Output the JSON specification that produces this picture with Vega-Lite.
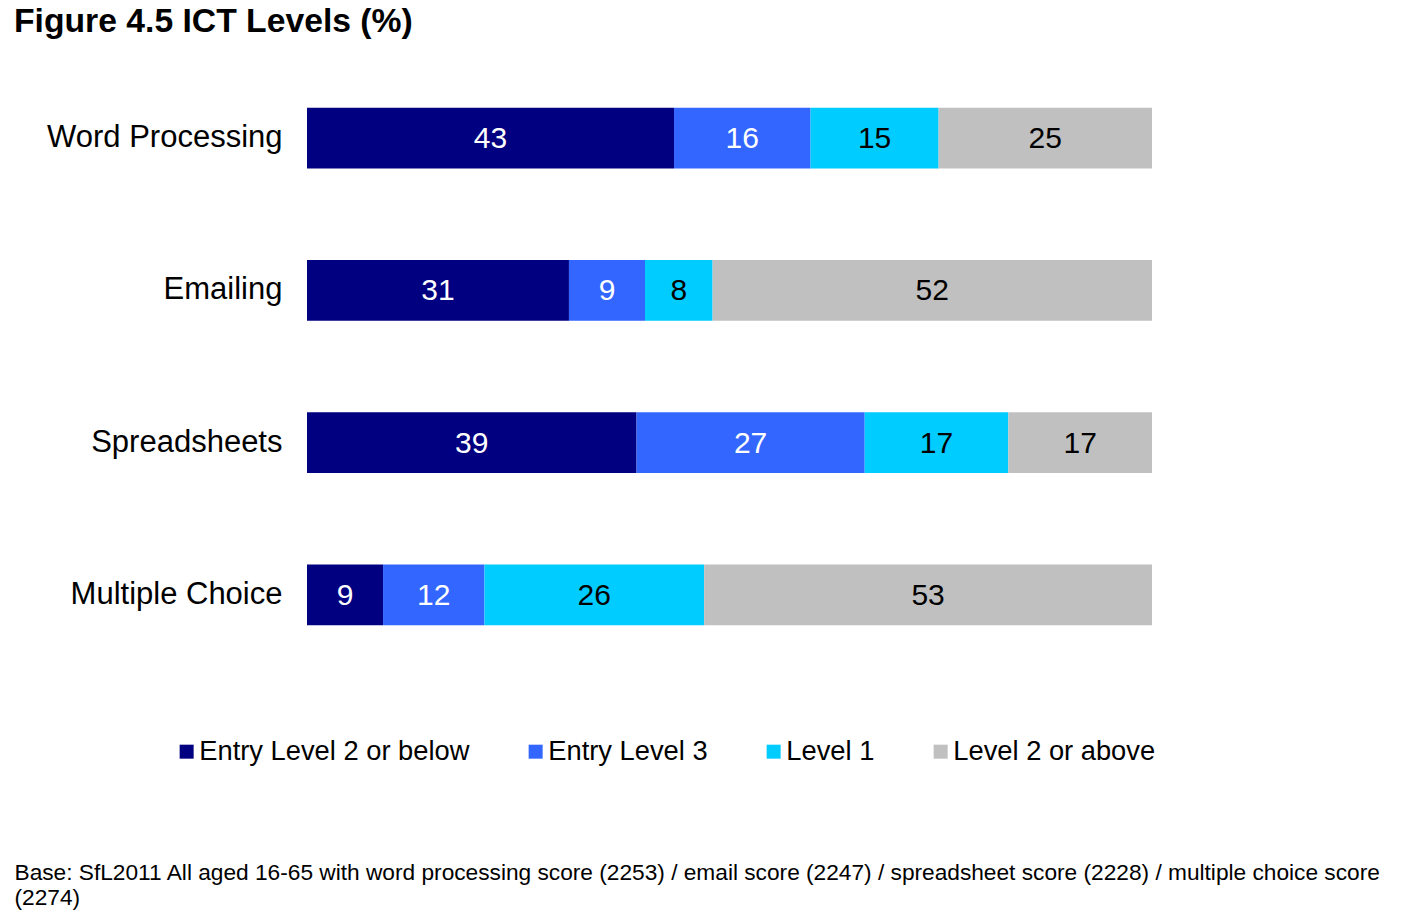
{
  "$schema": "https://vega.github.io/schema/vega-lite/v6.json",
  "width": 845,
  "height": 609,
  "autosize": {"type": "none"},
  "padding": {"left": 307, "top": 62, "right": 265, "bottom": 243},
  "background": "white",
  "config": {
    "font": "Liberation Sans",
    "view": {"stroke": null}
  },
  "title": {
    "text": "Figure 4.5 ICT Levels (%)",
    "anchor": "start",
    "frame": "group",
    "dx": -293,
    "dy": 34,
    "offset": 30,
    "baseline": "alphabetic",
    "font": "Liberation Sans",
    "fontSize": 33.7,
    "fontWeight": "bold",
    "color": "black"
  },
  "data": {
    "values": [
      {"category": "Word Processing", "level": "Entry Level 2 or below", "ord": 1, "value": 43},
      {"category": "Word Processing", "level": "Entry Level 3", "ord": 2, "value": 16},
      {"category": "Word Processing", "level": "Level 1", "ord": 3, "value": 15},
      {"category": "Word Processing", "level": "Level 2 or above", "ord": 4, "value": 25},
      {"category": "Emailing", "level": "Entry Level 2 or below", "ord": 1, "value": 31},
      {"category": "Emailing", "level": "Entry Level 3", "ord": 2, "value": 9},
      {"category": "Emailing", "level": "Level 1", "ord": 3, "value": 8},
      {"category": "Emailing", "level": "Level 2 or above", "ord": 4, "value": 52},
      {"category": "Spreadsheets", "level": "Entry Level 2 or below", "ord": 1, "value": 39},
      {"category": "Spreadsheets", "level": "Entry Level 3", "ord": 2, "value": 27},
      {"category": "Spreadsheets", "level": "Level 1", "ord": 3, "value": 17},
      {"category": "Spreadsheets", "level": "Level 2 or above", "ord": 4, "value": 17},
      {"category": "Multiple Choice", "level": "Entry Level 2 or below", "ord": 1, "value": 9},
      {"category": "Multiple Choice", "level": "Entry Level 3", "ord": 2, "value": 12},
      {"category": "Multiple Choice", "level": "Level 1", "ord": 3, "value": 26},
      {"category": "Multiple Choice", "level": "Level 2 or above", "ord": 4, "value": 53}
    ]
  },
  "encoding": {
    "y": {
      "field": "category",
      "type": "nominal",
      "sort": ["Word Processing", "Emailing", "Spreadsheets", "Multiple Choice"],
      "scale": {"paddingInner": 0.6, "paddingOuter": 0.3},
      "axis": {
        "title": null,
        "ticks": false,
        "tickSize": 0,
        "domain": false,
        "labelPadding": 25,
        "labelFontSize": 31,
        "labelLimit": 400,
        "labelColor": "black",
        "labelFont": "Liberation Sans"
      }
    },
    "x": {
      "field": "value",
      "type": "quantitative",
      "stack": "normalize",
      "scale": {"domain": [0, 1], "nice": false},
      "axis": {
        "labels": false,
        "ticks": false,
        "domain": false,
        "grid": false,
        "title": ["Base: SfL2011 All aged 16-65  with word processing score (2253) / email score (2247) / spreadsheet score (2228) / multiple choice score", "(2274)"],
        "titleX": -293,
        "titleY": 208,
        "titleAlign": "left",
        "titleAnchor": "start",
        "titleBaseline": "alphabetic",
        "titleFontSize": 22.7,
        "titleFontWeight": "normal",
        "titleFont": "Liberation Sans",
        "titleLineHeight": 25,
        "titleColor": "black",
        "titleLimit": 1400
      }
    },
    "order": {"field": "ord", "type": "quantitative"}
  },
  "layer": [
    {
      "mark": {"type": "bar"},
      "encoding": {
        "color": {
          "field": "level",
          "type": "nominal",
          "sort": ["Entry Level 2 or below", "Entry Level 3", "Level 1", "Level 2 or above"],
          "scale": {
            "domain": ["Entry Level 2 or below", "Entry Level 3", "Level 1", "Level 2 or above"],
            "range": ["#000080", "#3366FF", "#00CCFF", "#C0C0C0"]
          },
          "legend": {
            "title": null,
            "orient": "none",
            "direction": "horizontal",
            "legendX": -134,
            "legendY": 676,
            "padding": 0,
            "symbolType": "square",
            "symbolSize": 196,
            "symbolStrokeWidth": 0,
            "labelFontSize": 27.3,
            "labelFont": "Liberation Sans",
            "labelColor": "black",
            "labelOffset": -1,
            "columnPadding": 52,
            "labelLimit": 500
          }
        }
      }
    },
    {
      "mark": {"type": "text", "font": "Liberation Sans", "fontSize": 30, "baseline": "middle", "align": "center", "dy": 1},
      "encoding": {
        "x": {"field": "value", "type": "quantitative", "stack": "normalize", "bandPosition": 0.5},
        "text": {"field": "value", "type": "quantitative"},
        "color": {
          "condition": {"test": "datum.ord <= 2", "value": "white"},
          "value": "black"
        }
      }
    }
  ]
}
